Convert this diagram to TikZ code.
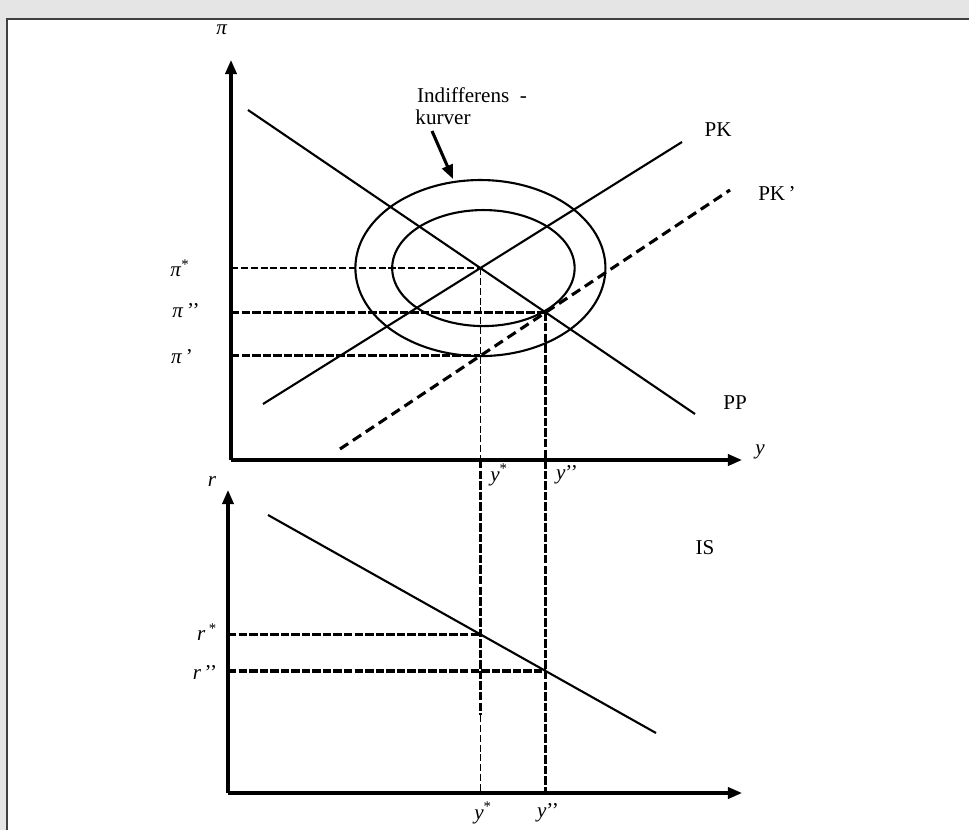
\documentclass[tikz,border=0pt]{standalone}
\usepackage{fontspec}
\setmainfont{Liberation Serif}
\usepackage{tikz}
\usetikzlibrary{arrows.meta}
\usetikzlibrary{calc}
\usetikzlibrary{backgrounds}

\tikzset{
  axis/.style={line width=2.2pt,-{Triangle[length=10pt,width=8pt]}},
  curve/.style={line width=1.5pt},
  guide/.style={line width=0.9pt,dash pattern=on 5pt off 2pt},
  guidethick/.style={line width=2.2pt,dash pattern=on 6pt off 1.5pt},
  shifted/.style={line width=2.2pt,dash pattern=on 7pt off 4pt},
  lbl/.style={inner sep=1pt,font=\fontsize{15}{17}\selectfont},
}

\begin{document}
\begin{tikzpicture}[x=0.025cm,y=-0.025cm]
    % Frame
    \useasboundingbox (0,0) rectangle (969,830);
    \fill[black!10] (0,0) rectangle (969,830);
    \fill[white] (7,19) rectangle (969,830);
    \draw[line width=1.5pt,black!75] (7,830) -- (7,19) -- (969,19);

    % Upper panel: axes
    \coordinate (o1)   at (231,460);
    \coordinate (piTop) at (231,60);
    \coordinate (yEnd) at (742,460);
    \draw[axis] (o1) -- (piTop);
    \draw[axis] (o1) -- (yEnd);
    \node (piLab) [lbl] at (222,30) {\textit{π}};
    \node (yLab)  [lbl] at (760,452) {\textit{y}};

    % Curves PP, PK, PK'
    \coordinate (pp1) at (248,110);
    \coordinate (pp2) at (695,414);
    \coordinate (pk1) at (263,404);
    \coordinate (pk2) at (682,142);
    \coordinate (pq1) at (340,449);
    \coordinate (pq2) at (730,190);
    \draw[curve] (pp1) -- (pp2);
    \draw[curve] (pk1) -- (pk2);
    \draw[shifted] (pq1) -- (pq2);
    \node (ppLab) [lbl] at (735,403) {PP};
    \node (pkLab) [lbl] at (718,130) {PK};
    \node (pqLab) [lbl] at (777,193) {PK\,’};

    % Intersections
    \coordinate (eA) at (intersection of pp1--pp2 and pk1--pk2);
    \coordinate (eB) at (intersection of pp1--pp2 and pq1--pq2);
    \coordinate (xA) at (eA |- o1);
    \coordinate (eC) at (intersection of pq1--pq2 and eA--xA);

    % Indifference curves
    \draw[curve] (eA) ellipse [x radius=3.125cm, y radius=2.2cm];
    \draw[curve] ($(eA)+(3,0)$) ellipse [x radius=2.28cm, y radius=1.45cm];
    \node (indLab) [lbl] at (472,95) {Indifferens \ -};
    \node (kurLab) [lbl] at (443,117) {kurver};
    \coordinate (kurTail) at (432,131);
    \coordinate (kurTip)  at (453,179);
    \draw[line width=2.2pt,-{Triangle[length=10pt,width=8pt]}] (kurTail) -- (kurTip);

    % Lower panel: axes
    \coordinate (o2)   at (228,793);
    \coordinate (rTop) at (228,490);
    \coordinate (xEnd) at (742,793);
    \draw[axis] (o2) -- (rTop);
    \draw[axis] (o2) -- (xEnd);
    \node (rLab) [lbl] at (212,482) {\textit{r}};

    % IS curve
    \coordinate (is1) at (268,515);
    \coordinate (is2) at (656,733);
    \draw[curve] (is1) -- (is2);
    \node (isLab) [lbl] at (705,548) {IS};
    \coordinate (bA) at (eA |- o2);
    \coordinate (bB) at (eB |- o2);
    \coordinate (rA) at (intersection of is1--is2 and eA--bA);
    \coordinate (rB) at (intersection of is1--is2 and eB--bB);
    \coordinate (mA) at ($(bA)+(0,-78)$);

    % Guide lines
    \draw[guide] (eA -| o1) -- (eA);
    \draw[guidethick] (eB -| o1) -- (eB);
    \draw[guidethick] (eC -| o1) -- (eC);
    \draw[guide] (eA) -- (xA);
    \draw[guidethick] (xA) -- (mA);
    \draw[guide] (mA) -- (bA);
    \draw[guidethick] (eB) -- (bB);
    \draw[guidethick] (rA -| o2) -- (rA);
    \draw[guidethick] (rB -| o2) -- (rB);

    % Axis labels
    \node (piA) [lbl] at (180,268) {\textit{π}\textsuperscript{*}};
    \node (piB) [lbl] at (186,311) {\textit{π}\,’’};
    \node (piC) [lbl] at (182,357) {\textit{π}\,’};
    \node (yA) [lbl] at (499,475) {\textit{y}\textsuperscript{*}};
    \node (yB) [lbl] at (567,475) {\textit{y}’’};
    \node (rAl) [lbl] at (207,632) {\textit{r}\,\textsuperscript{*}};
    \node (rBl) [lbl] at (205,672) {\textit{r}\,’’};
    \node (yC) [lbl] at (483,813) {\textit{y}\textsuperscript{*}};
    \node (yD) [lbl] at (548,813) {\textit{y}’’};
\end{tikzpicture}
\end{document}
